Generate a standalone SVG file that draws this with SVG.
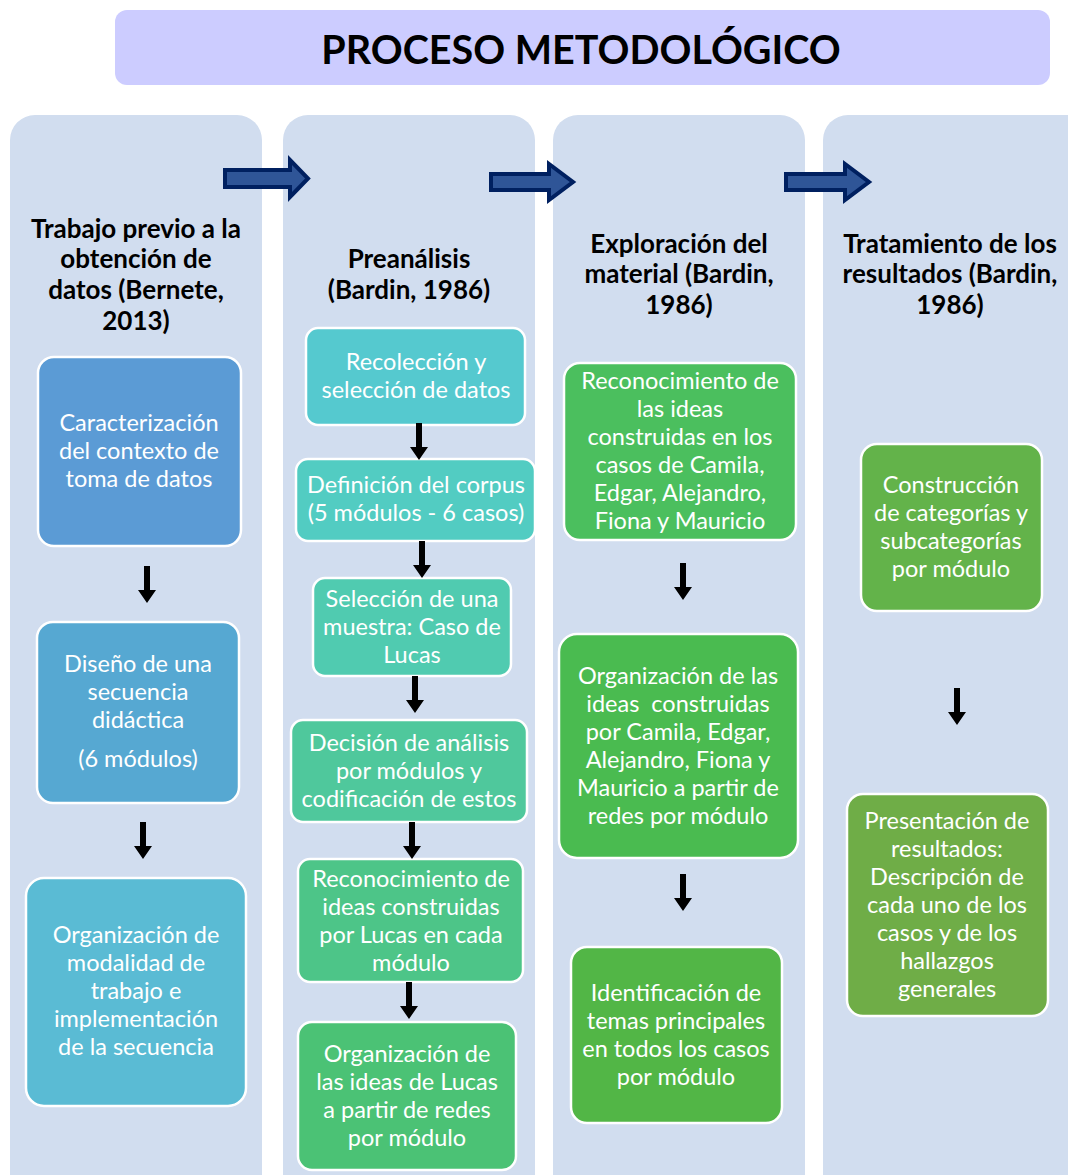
<svg xmlns="http://www.w3.org/2000/svg" width="1068" height="1175" viewBox="0 0 1068 1175">
<defs>
<style>
.col{fill:#D1DDEF}
.box{stroke:#fff;stroke-width:2.5}
.hd{font-family:Lato,"Open Sans",sans-serif;font-weight:bold;font-size:26px;fill:#000;text-anchor:middle}
.bt{font-family:Lato,"Open Sans",sans-serif;font-size:23.5px;fill:#fff;text-anchor:middle}
.ra{fill:#2F5597;stroke:#002060;stroke-width:4;stroke-linejoin:miter}
.da{fill:#000}
</style>
<path id="down" d="M-3,0 H3 V24 H9 L0,37 L-9,24 H-3 Z"/>
</defs>
<rect width="1068" height="1175" fill="#fff"/>
<g id="title">
<rect x="115" y="10" width="935" height="75" rx="12" fill="#CCCCFF"/>
<text x="581" y="64" font-family="Lato,'Open Sans',sans-serif" font-weight="bold" font-size="39.5" text-anchor="middle" fill="#000">PROCESO METODOLÓGICO</text>
</g>
<g id="columns">
<rect class="col" x="10" y="115" width="252" height="1100" rx="25"/>
<rect class="col" x="283" y="115" width="252" height="1100" rx="25"/>
<rect class="col" x="553" y="115" width="252" height="1100" rx="25"/>
<rect class="col" x="823" y="115" width="270" height="1100" rx="25"/>
</g>
<g id="headers">
<text class="hd"><tspan x="136" y="238">Trabajo previo a la</tspan><tspan x="136" y="268">obtención de</tspan><tspan x="136" y="299">datos (Bernete,</tspan><tspan x="136" y="330">2013)</tspan></text>
<text class="hd"><tspan x="409" y="268">Preanálisis</tspan><tspan x="409" y="299">(Bardin, 1986)</tspan></text>
<text class="hd"><tspan x="679" y="253">Exploración del</tspan><tspan x="679" y="283">material (Bardin,</tspan><tspan x="679" y="314">1986)</tspan></text>
<text class="hd"><tspan x="950" y="253">Tratamiento de los</tspan><tspan x="950" y="283">resultados (Bardin,</tspan><tspan x="950" y="314">1986)</tspan></text>
</g>
<g id="c1n1"><rect class="box" x="38" y="357" width="203" height="189" rx="16" fill="#5B9BD5"/>
<text class="bt"><tspan x="139" y="431">Caracterización</tspan><tspan x="139" y="459">del contexto de</tspan><tspan x="139" y="487">toma de datos</tspan></text></g>
<g id="c1n2"><rect class="box" x="37" y="622" width="202" height="181" rx="16" fill="#56A8D2"/>
<text class="bt"><tspan x="138" y="672">Diseño de una</tspan><tspan x="138" y="700">secuencia</tspan><tspan x="138" y="728">didáctica</tspan><tspan x="138" y="767">(6 módulos)</tspan></text></g>
<g id="c1n3"><rect class="box" x="26" y="878" width="220" height="228" rx="18" fill="#5ABBD4"/>
<text class="bt"><tspan x="136" y="943">Organización de</tspan><tspan x="136" y="971">modalidad de</tspan><tspan x="136" y="999">trabajo e</tspan><tspan x="136" y="1027">implementación</tspan><tspan x="136" y="1055">de la secuencia</tspan></text></g>
<g id="c2n1"><rect class="box" x="306" y="328" width="219" height="97" rx="12" fill="#55C9CF"/>
<text class="bt"><tspan x="416" y="370">Recolección y</tspan><tspan x="416" y="398">selección de datos</tspan></text></g>
<g id="c2n2"><rect class="box" x="296" y="459" width="239" height="82" rx="12" fill="#52CCC2"/>
<text class="bt"><tspan x="416" y="493">Definición del corpus</tspan><tspan x="416" y="521">(5 módulos - 6 casos)</tspan></text></g>
<g id="c2n3"><rect class="box" x="313" y="578" width="198" height="98" rx="12" fill="#50CBB0"/>
<text class="bt"><tspan x="412" y="607">Selección de una</tspan><tspan x="412" y="635">muestra: Caso de</tspan><tspan x="412" y="663">Lucas</tspan></text></g>
<g id="c2n4"><rect class="box" x="291" y="720" width="236" height="102" rx="12" fill="#4FC89C"/>
<text class="bt"><tspan x="409" y="751">Decisión de análisis</tspan><tspan x="409" y="779">por módulos y</tspan><tspan x="409" y="807">codificación de estos</tspan></text></g>
<g id="c2n5"><rect class="box" x="298" y="859" width="225" height="123" rx="12" fill="#4DC588"/>
<text class="bt"><tspan x="411" y="887">Reconocimiento de</tspan><tspan x="411" y="915">ideas construidas</tspan><tspan x="411" y="943">por Lucas en cada</tspan><tspan x="411" y="971">módulo</tspan></text></g>
<g id="c2n6"><rect class="box" x="298" y="1022" width="218" height="148" rx="14" fill="#4BC275"/>
<text class="bt"><tspan x="407" y="1062">Organización de</tspan><tspan x="407" y="1090">las ideas de Lucas</tspan><tspan x="407" y="1118">a partir de redes</tspan><tspan x="407" y="1146">por módulo</tspan></text></g>
<g id="c3n1"><rect class="box" x="564" y="363" width="232" height="177" rx="16" fill="#4BBF5E"/>
<text class="bt"><tspan x="680" y="389">Reconocimiento de</tspan><tspan x="680" y="417">las ideas</tspan><tspan x="680" y="445">construidas en los</tspan><tspan x="680" y="473">casos de Camila,</tspan><tspan x="680" y="501">Edgar, Alejandro,</tspan><tspan x="680" y="529">Fiona y Mauricio</tspan></text></g>
<g id="c3n2"><rect class="box" x="559" y="634" width="239" height="224" rx="18" fill="#4ABB50"/>
<text class="bt"><tspan x="678" y="684">Organización de las</tspan><tspan x="678" y="712" xml:space="preserve">ideas  construidas</tspan><tspan x="678" y="740">por Camila, Edgar,</tspan><tspan x="678" y="768">Alejandro, Fiona y</tspan><tspan x="678" y="796">Mauricio a partir de</tspan><tspan x="678" y="824">redes por módulo</tspan></text></g>
<g id="c3n3"><rect class="box" x="571" y="947" width="211" height="176" rx="16" fill="#52B646"/>
<text class="bt"><tspan x="676" y="1001">Identificación de</tspan><tspan x="676" y="1029">temas principales</tspan><tspan x="676" y="1057">en todos los casos</tspan><tspan x="676" y="1085">por módulo</tspan></text></g>
<g id="c4n1"><rect class="box" x="861" y="444" width="181" height="167" rx="16" fill="#63B34A"/>
<text class="bt"><tspan x="951" y="493">Construcción</tspan><tspan x="951" y="521">de categorías y</tspan><tspan x="951" y="549">subcategorías</tspan><tspan x="951" y="577">por módulo</tspan></text></g>
<g id="c4n2"><rect class="box" x="847" y="794" width="201" height="222" rx="16" fill="#6FAD47"/>
<text class="bt"><tspan x="947" y="829">Presentación de</tspan><tspan x="947" y="857">resultados:</tspan><tspan x="947" y="885">Descripción de</tspan><tspan x="947" y="913">cada uno de los</tspan><tspan x="947" y="941">casos y de los</tspan><tspan x="947" y="969">hallazgos</tspan><tspan x="947" y="997">generales</tspan></text></g>
<g id="connectors">
<path class="ra" d="M225,170 H290 V160 L308,178.5 L290,197 V187 H225 Z"/>
<path class="ra" d="M491,174 H549 V164 L573,182 L549,200 V190 H491 Z"/>
<path class="ra" d="M786,174 H845 V164 L869,182 L845,200 V190 H786 Z"/>
<use href="#down" class="da" x="147" y="566"/>
<use href="#down" class="da" x="143" y="822"/>
<use href="#down" class="da" x="419" y="423"/>
<use href="#down" class="da" x="422" y="541"/>
<use href="#down" class="da" x="415" y="676"/>
<use href="#down" class="da" x="412" y="822"/>
<use href="#down" class="da" x="409" y="982"/>
<use href="#down" class="da" x="683" y="563"/>
<use href="#down" class="da" x="683" y="874"/>
<use href="#down" class="da" x="957" y="688"/>
</g>
</svg>
